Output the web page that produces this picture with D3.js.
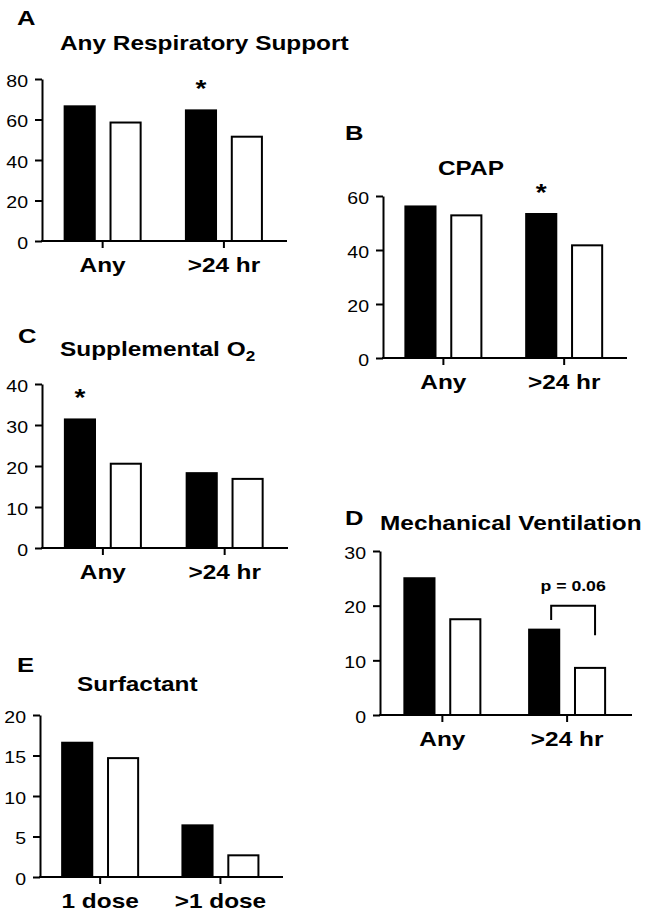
<!DOCTYPE html>
<html><head><meta charset="utf-8">
<script src="https://cdn.jsdelivr.net/npm/d3@7"></script>
<style>
html,body{margin:0;padding:0;background:#fff;}
svg{display:block;}
text{font-family:"Liberation Sans", Arial, Helvetica, sans-serif;fill:#000;}
</style>
</head><body>
<svg id="chart" width="648" height="916"></svg>
<script>
// ---------- DATA ----------
const respCategories = ["Any", ">24 hr"];
const surfCategories = ["1 dose", ">1 dose"];
const seriesKeys = ["filled", "open"];

const anyRespFilled = [67, 65];
const anyRespOpen = [59, 52];
const cpapFilled = [56.5, 53.7];
const cpapOpen = [53.2, 42.1];
const suppO2Filled = [31.6, 18.5];
const suppO2Open = [20.8, 17.1];
const mechVentFilled = [25.2, 15.8];
const mechVentOpen = [17.7, 8.8];
const surfFilled = [16.7, 6.5];
const surfOpen = [14.8, 2.8];

const anyRespTicks = [0, 20, 40, 60, 80];
const cpapTicks = [0, 20, 40, 60];
const suppO2Ticks = [0, 10, 20, 30, 40];
const mechVentTicks = [0, 10, 20, 30];
const surfTicks = [0, 5, 10, 15, 20];

const anyRespStars = [">24 hr"];
const cpapStars = [">24 hr"];
const suppO2Stars = ["Any"];
const mechVentStars = [];
const surfStars = [];

const mechVentBracketCategory = ">24 hr";
const mechVentBracketLabel = "p = 0.06";
const mechVentBracketValues = [17.4, 20, 14.6]; // left end, top, right end

// ---------- LAYOUT ----------
const S = 1.22; // horizontal text stretch of the source image
const panels = [
  {letter: "A", title: "Any Respiratory Support", cats: respCategories, filled: anyRespFilled, open: anyRespOpen,
   ticks: anyRespTicks, stars: anyRespStars, x0: 42, x1: 287, yTop: 79, yBot: 241, letterPos: [17, 25], titlePos: [60, 49.5]},
  {letter: "B", title: "CPAP", cats: respCategories, filled: cpapFilled, open: cpapOpen,
   ticks: cpapTicks, stars: cpapStars, x0: 383, x1: 627, yTop: 196, yBot: 358, letterPos: [345, 140], titlePos: [438, 175]},
  {letter: "C", title: "Supplemental O", sub: "2", cats: respCategories, filled: suppO2Filled, open: suppO2Open,
   ticks: suppO2Ticks, stars: suppO2Stars, x0: 42, x1: 288, yTop: 384, yBot: 548, letterPos: [18, 343], titlePos: [60, 356]},
  {letter: "D", title: "Mechanical Ventilation", cats: respCategories, filled: mechVentFilled, open: mechVentOpen,
   ticks: mechVentTicks, stars: mechVentStars, x0: 380, x1: 632, yTop: 551, yBot: 715, letterPos: [345, 525], titlePos: [380, 530],
   bracket: true},
  {letter: "E", title: "Surfactant", cats: surfCategories, filled: surfFilled, open: surfOpen,
   ticks: surfTicks, stars: surfStars, x0: 40, x1: 283, yTop: 715, yBot: 877, letterPos: [17, 672], titlePos: [77, 691]}
];

const svg = d3.select("#chart");
svg.append("rect").attr("width", 648).attr("height", 916).attr("fill", "#fff");

function stext(sel, x, y, str, size, weight, anchor) {
  return sel.append("text")
    .attr("transform", `translate(${x},${y}) scale(${S},1)`)
    .attr("font-size", size)
    .attr("font-weight", weight || "normal")
    .attr("text-anchor", anchor || "start")
    .text(str);
}

panels.forEach(p => {
  const g = svg.append("g");
  const y = d3.scaleLinear().domain([0, d3.max(p.ticks)]).range([p.yBot, p.yTop]);
  const W = p.x1 - p.x0;
  const x = d3.scaleBand().domain(p.cats).range([p.x0, p.x0 + W * 0.99]).paddingInner(0).paddingOuter(0);
  const xs = d3.scaleBand().domain(seriesKeys).range([-39, 39]).paddingInner(0.3).paddingOuter(0);
  const cx = c => x(c) + x.bandwidth() / 2;

  const rows = [];
  p.cats.forEach((c, i) => {
    rows.push({cat: c, key: "filled", value: p.filled[i]});
    rows.push({cat: c, key: "open", value: p.open[i]});
  });

  // bars
  g.selectAll("rect.bar").data(rows).join("rect")
    .attr("class", "bar")
    .attr("x", d => cx(d.cat) + xs(d.key) + 1)
    .attr("width", xs.bandwidth() - 2)
    .attr("y", d => y(d.value) + 1)
    .attr("height", d => y(0) - y(d.value) - 1)
    .attr("fill", d => d.key === "filled" ? "#000" : "#fff")
    .attr("stroke", "#000")
    .attr("stroke-width", 2);

  // y axis
  const ya = g.append("g").attr("transform", `translate(${p.x0},0)`)
    .call(d3.axisLeft(y).tickValues(p.ticks).tickSize(7).tickSizeOuter(0).tickPadding(7).tickFormat(d3.format("d")));
  ya.selectAll("path,line").attr("stroke", "#000").attr("stroke-width", 2);
  ya.selectAll("text").each(function () {
    const t = d3.select(this);
    const tx = +t.attr("x");
    t.attr("x", 0).attr("dy", "0.44em")
      .attr("transform", `translate(${tx},0) scale(${S},1)`)
      .attr("font-size", 16).attr("font-family", "Liberation Sans, Arial, sans-serif").attr("fill", "#000");
  });

  // x axis line
  g.append("line").attr("x1", p.x0 - 1).attr("x2", p.x1).attr("y1", p.yBot).attr("y2", p.yBot)
    .attr("stroke", "#000").attr("stroke-width", 2);
  const xa = g.append("g").attr("transform", `translate(0,${p.yBot})`)
    .call(d3.axisBottom(x).tickSize(7).tickSizeOuter(0));
  xa.select("path.domain").remove();
  xa.selectAll("line").attr("stroke", "#000").attr("stroke-width", 2);
  xa.selectAll("text").attr("y", 0).attr("dy", 0)
    .attr("transform", `translate(0,31) scale(${S},1)`)
    .attr("font-size", 20).attr("font-weight", "bold")
    .attr("font-family", "Liberation Sans, Arial, sans-serif").attr("fill", "#000");

  // significance stars
  p.stars.forEach(c => {
    const i = p.cats.indexOf(c);
    stext(g, cx(c) + xs("filled") + xs.bandwidth() / 2, y(p.filled[i]) - 12, "*", 23, "bold", "middle");
  });

  // bracket
  if (p.bracket) {
    const c = mechVentBracketCategory;
    const xl = cx(c) + xs("filled") + xs.bandwidth() / 2 + 7;
    const xr = cx(c) + xs("open") + xs.bandwidth() / 2 + 5;
    const [vl, vt, vr] = mechVentBracketValues;
    g.append("path")
      .attr("d", `M${xl},${y(vl)}V${y(vt)}H${xr}V${y(vr)}`)
      .attr("fill", "none").attr("stroke", "#000").attr("stroke-width", 2);
    stext(g, (xl + xr) / 2, y(vt) - 15, mechVentBracketLabel, 14.5, "bold", "middle");
  }

  // panel letter & title
  stext(g, p.letterPos[0], p.letterPos[1], p.letter, 21, "bold");
  const tt = stext(g, p.titlePos[0], p.titlePos[1], p.title, 20, "bold");
  if (p.sub) {
    tt.append("tspan").attr("font-size", 14).attr("dy", 5).text(p.sub);
  }
});
</script>
</body></html>
